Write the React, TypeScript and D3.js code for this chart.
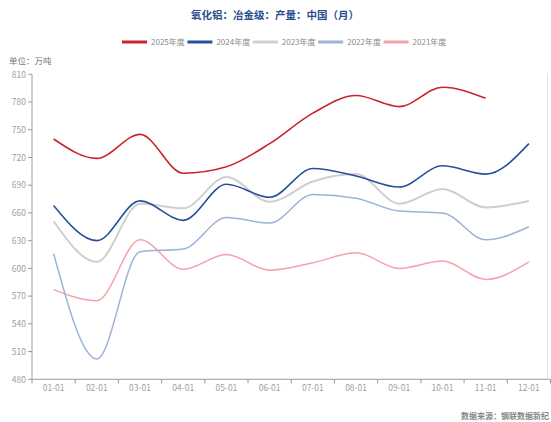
import React from "react";
import * as d3 from "d3";

const categories = ["01-01","02-01","03-01","04-01","05-01","06-01","07-01","08-01","09-01","10-01","11-01","12-01"];
const yTicks = [480,510,540,570,600,630,660,690,720,750,780,810];

const s2025 = [740,719,745,703,710,735,768,787,775,796,784];
const s2024 = [668,630,673,652,691,677,708,700,688,711,702,735];
const s2023 = [651,607,670,665,699,672,694,702,670,686,666,673];
const s2022 = [616,502,618,621,655,649,680,676,662,660,631,645];
const s2021 = [577,565,631,599,615,598,606,617,600,608,588,607];

const seriesNames = ["2025年度","2024年度","2023年度","2022年度","2021年度"];
const seriesData = [s2025, s2024, s2023, s2022, s2021];
const seriesColors = ["#c8242c","#27509a","#cfcfcf","#9db2d8","#f4a3ab"];
const seriesWidths = [1.6,1.6,2,1.5,1.5];

const title = "氧化铝：冶金级：产量：中国（月）";
const unitLabel = "单位：万吨";
const sourceLabel = "数据来源：钢联数据新纪";

export default function App() {
  const W = 551, H = 422;
  const left = 32, right = 550.5, top = 74.3, bottom = 379.3;
  const x = d3.scaleBand<string>().domain(categories).range([left, right]);
  const y = d3.scaleLinear().domain([480, 810]).range([bottom, top]);
  const line = d3.line<number>()
    .x((_, i) => (x(categories[i]) as number) + x.bandwidth() / 2)
    .y(d => y(d))
    .curve(d3.curveMonotoneX);

  const legendStart = 122;
  const legendStep = 65.4;

  return (
    <svg width={W} height={H} style={{ position: "fixed", left: 0, top: 0 }}
      fontFamily="'Noto Sans CJK SC', 'Noto Sans', sans-serif">
      <rect x={0} y={0} width={W} height={H} fill="#fff" />
      <text x={275} y={19} textAnchor="middle" fontSize={10.5} fontWeight="bold" fill="#2b4f8e">{title}</text>
      {seriesNames.map((n, i) => (
        <g key={n} transform={`translate(${legendStart + i * legendStep},42)`}>
          <line x1={0} x2={25} y1={0} y2={0} stroke={seriesColors[i]} strokeWidth={3} />
          <text x={29} y={3} fontSize={8} fill="#8a8a8a">{n}</text>
        </g>
      ))}
      <text x={9} y={64} fontSize={8.5} fill="#777">{unitLabel}</text>
      {/* y axis */}
      <line x1={left} x2={left} y1={top} y2={bottom} stroke="#cfcfcf" strokeWidth={2} />
      {yTicks.map(t => (
        <g key={t}>
          <line x1={left - 4} x2={left} y1={y(t)} y2={y(t)} stroke="#999" strokeWidth={1} />
          <text x={left - 6} y={y(t) + 3.2} textAnchor="end" fontSize={8.5} fill="#a0a0a0">{t}</text>
        </g>
      ))}
      {/* x axis */}
      <line x1={left} x2={right} y1={bottom} y2={bottom} stroke="#999" strokeWidth={1} />
      {d3.range(categories.length + 1).map(i => {
        const xx = left + i * x.bandwidth();
        return <line key={i} x1={xx} x2={xx} y1={bottom} y2={bottom + 4} stroke="#999" strokeWidth={1} />;
      })}
      {categories.map(c => (
        <text key={c} x={(x(c) as number) + x.bandwidth() / 2} y={bottom + 11.5} textAnchor="middle" fontSize={8.5} fill="#a0a0a0">{c}</text>
      ))}
      <line x1={547.5} x2={547.5} y1={top} y2={bottom} stroke="#e6e6e6" strokeWidth={1} />
      {/* series, draw older first */}
      {seriesData.map((d, i) => i).reverse().map(i => (
        <path key={i} d={line(seriesData[i]) || ""} fill="none" stroke={seriesColors[i]} strokeWidth={seriesWidths[i]} />
      ))}
      <text x={549} y={419} textAnchor="end" fontSize={8} fontWeight="bold" fill="#888">{sourceLabel}</text>
    </svg>
  );
}
